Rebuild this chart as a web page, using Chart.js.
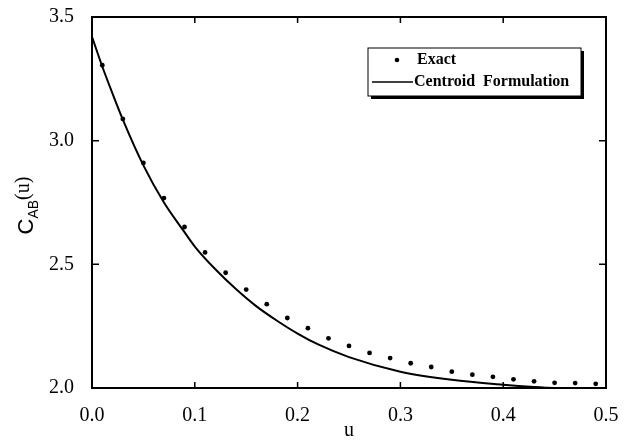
<!DOCTYPE html>
<html>
<head>
<meta charset="utf-8">
<script src="https://cdn.jsdelivr.net/npm/chart.js@4"></script>
<style>
  body { margin: 0; background: #fff; }
  #wrap { width: 632px; height: 440px; }
</style>
</head>
<body>
<div id="wrap"><canvas id="myChart" width="632" height="440"></canvas></div>
<script>
// exact values (dots)
const exactU = [0.01, 0.03, 0.05, 0.07, 0.09, 0.11, 0.13, 0.15, 0.17, 0.19, 0.21, 0.23, 0.25,
  0.27, 0.29, 0.31, 0.33, 0.35, 0.37, 0.39, 0.41, 0.43, 0.45, 0.47, 0.49];
const exactC = [3.305, 3.088, 2.91, 2.768, 2.651, 2.548, 2.466, 2.398, 2.339, 2.283, 2.242, 2.201, 2.17,
  2.142, 2.121, 2.10, 2.085, 2.066, 2.054, 2.045, 2.035, 2.027, 2.021, 2.020, 2.017];

// centroid formulation (solid line)
const centU = [0, 0.01, 0.02, 0.03, 0.05, 0.07, 0.09, 0.10, 0.12, 0.14, 0.16, 0.18, 0.20, 0.22,
  0.25, 0.30, 0.35, 0.40, 0.43, 0.45, 0.50];
const centC = [3.42, 3.30, 3.19, 3.085, 2.90, 2.75, 2.63, 2.572, 2.48, 2.40, 2.33, 2.272, 2.22, 2.176,
  2.125, 2.066, 2.033, 2.013, 2.004, 2.0, 1.998];

const xTicks = [0.1, 0.2, 0.3, 0.4];
const yTicks = [2.5, 3.0];

const toPts = (xs, ys) => xs.map((x, i) => ({ x: x, y: ys[i] }));

// frame, inward ticks, axis titles and the boxed legend
const decor = {
  id: "decor",
  afterDraw(chart) {
    const ctx = chart.ctx;
    const a = chart.chartArea;
    const sx = chart.scales.x, sy = chart.scales.y;
    ctx.save();
    ctx.strokeStyle = "#000";
    ctx.lineWidth = 2;
    ctx.strokeRect(a.left, a.top, a.right - a.left, a.bottom - a.top);
    ctx.lineWidth = 1.5;
    ctx.beginPath();
    xTicks.forEach(v => {
      const px = sx.getPixelForValue(v);
      ctx.moveTo(px, a.bottom); ctx.lineTo(px, a.bottom - 6);
      ctx.moveTo(px, a.top); ctx.lineTo(px, a.top + 6);
    });
    yTicks.forEach(v => {
      const py = sy.getPixelForValue(v);
      ctx.moveTo(a.left, py); ctx.lineTo(a.left + 7, py);
      ctx.moveTo(a.right, py); ctx.lineTo(a.right - 7, py);
    });
    ctx.stroke();

    // x title
    ctx.fillStyle = "#000";
    ctx.font = "20px 'Liberation Serif'";
    ctx.textAlign = "center";
    ctx.textBaseline = "alphabetic";
    ctx.fillText("u", (a.left + a.right) / 2, 436);

    // y title C_AB(u)
    ctx.save();
    ctx.translate(33, (a.top + a.bottom) / 2 + 3);
    ctx.rotate(-Math.PI / 2);
    ctx.textAlign = "left";
    ctx.font = "22px 'Liberation Sans'";
    const wC = ctx.measureText("C").width;
    ctx.font = "14px 'Liberation Sans'";
    const wAB = ctx.measureText("AB").width;
    ctx.font = "20px 'Liberation Serif'";
    const wU = ctx.measureText("(u)").width;
    let x0 = -(wC + wAB + wU) / 2;
    ctx.font = "22px 'Liberation Sans'";
    ctx.fillText("C", x0, 0);
    x0 += wC;
    ctx.font = "14px 'Liberation Sans'";
    ctx.fillText("AB", x0, 5);
    x0 += wAB;
    ctx.font = "20px 'Liberation Serif'";
    ctx.fillText("(u)", x0, -4);
    ctx.restore();

    // legend box with shadow
    const lx = 368, ly = 48, lw = 213, lh = 48;
    ctx.fillStyle = "#000";
    ctx.fillRect(lx + 3, ly + 3, lw, lh);
    ctx.fillStyle = "#fff";
    ctx.fillRect(lx, ly, lw, lh);
    ctx.lineWidth = 1;
    ctx.strokeStyle = "#000";
    ctx.strokeRect(lx, ly, lw, lh);
    ctx.fillStyle = "#000";
    ctx.beginPath();
    ctx.arc(397, 60, 2.3, 0, Math.PI * 2);
    ctx.fill();
    ctx.lineWidth = 1.5;
    ctx.beginPath();
    ctx.moveTo(372, 82); ctx.lineTo(413, 82);
    ctx.stroke();
    ctx.font = "bold 16px 'Liberation Serif'";
    ctx.textAlign = "left";
    ctx.textBaseline = "middle";
    ctx.fillText("Exact", 417, 60);
    ctx.fillText("Centroid  Formulation", 414, 82);
    ctx.restore();
  }
};

const data = {
  datasets: [
    {
      label: "Exact",
      data: toPts(exactU, exactC),
      showLine: false,
      pointRadius: 2.4,
      pointBackgroundColor: "#000",
      pointBorderWidth: 0,
    },
    {
      label: "Centroid Formulation",
      data: toPts(centU, centC),
      showLine: true,
      borderColor: "#000",
      borderWidth: 2,
      pointRadius: 0,
      cubicInterpolationMode: "monotone",
    },
  ],
};

const config = {
  type: "scatter",
  data: data,
  options: {
    responsive: false,
    animation: false,
    layout: { padding: { top: 17, right: 26, left: 0, bottom: 0 } },
    plugins: { legend: false, tooltip: { enabled: false } },
    scales: {
      x: {
        type: "linear",
        min: 0, max: 0.5,
        grid: { display: false, drawTicks: false },
        border: { display: false },
        ticks: {
          stepSize: 0.1,
          padding: 16,
          color: "#000",
          font: { family: "'Liberation Serif'", size: 20 },
          callback: v => v.toFixed(1),
        },
        afterFit: s => { s.height = 52; s.paddingLeft = 0; s.paddingRight = 0; },
      },
      y: {
        type: "linear",
        min: 2, max: 3.5,
        grid: { display: false, drawTicks: false },
        border: { display: false },
        ticks: {
          stepSize: 0.5,
          padding: 18,
          color: "#000",
          font: { family: "'Liberation Serif'", size: 20 },
          callback: v => v.toFixed(1),
        },
        afterFit: s => { s.width = 92; s.paddingTop = 0; s.paddingBottom = 0; },
      },
    },
  },
  plugins: [decor],
};

chart = new Chart(document.getElementById("myChart").getContext("2d"), config);
</script>
</body>
</html>
